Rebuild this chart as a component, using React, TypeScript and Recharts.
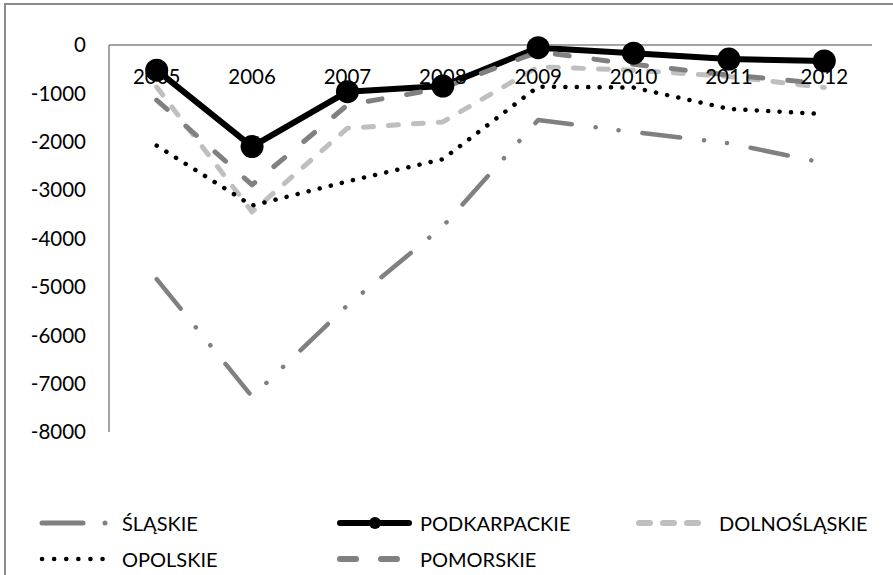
import { LineChart, Line, XAxis, YAxis } from 'recharts'

const years = ['2005', '2006', '2007', '2008', '2009', '2010', '2011', '2012']
const slaskie = [-4840, -7270, -5380, -3750, -1550, -1800, -2030, -2440]
const podkarpackie = [-520, -2100, -965, -850, -55, -170, -290, -330]
const dolnoslaskie = [-870, -3450, -1720, -1590, -450, -520, -650, -880]
const opolskie = [-2080, -3320, -2820, -2360, -860, -880, -1320, -1430]
const pomorskie = [-1140, -2890, -1240, -890, -140, -400, -620, -800]
const yTicks = [0, -1000, -2000, -3000, -4000, -5000, -6000, -7000, -8000]

const data = years.map((year, i) => ({
  year,
  slaskie: slaskie[i],
  podkarpackie: podkarpackie[i],
  dolnoslaskie: dolnoslaskie[i],
  opolskie: opolskie[i],
  pomorskie: pomorskie[i],
}))

const FONT = 'Lato, "Open Sans", sans-serif'
const AXIS = '#868686'

const SERIES = [
  { key: 'slaskie', name: 'ŚLĄSKIE', color: '#808080', width: 4.5, dash: '38 24 0.1 23 0.1 24' },
  { key: 'podkarpackie', name: 'PODKARPACKIE', color: '#000000', width: 6, dash: undefined, dot: true },
  { key: 'dolnoslaskie', name: 'DOLNOŚLĄSKIE', color: '#BFBFBF', width: 5, dash: '10 15' },
  { key: 'opolskie', name: 'OPOLSKIE', color: '#000000', width: 4.5, dash: '0.1 11.3' },
  { key: 'pomorskie', name: 'POMORSKIE', color: '#808080', width: 5, dash: '14 25' },
]

function YearTick({ x, y, payload }: { x?: number; y?: number; payload?: { value: string } }) {
  return (
    <text x={x} y={(y ?? 0) + 39} textAnchor="middle" fontSize={20.5} fill="#000" fontFamily={FONT}>
      {payload?.value}
    </text>
  )
}

// legend: position per entry, icon drawn as a small svg line
const LEGEND_POS = [
  { left: 39, top: 510 },
  { left: 337, top: 510 },
  { left: 636, top: 510 },
  { left: 39, top: 546 },
  { left: 337, top: 546 },
]

function LegendIcon({ s }: { s: typeof SERIES[number] }) {
  if (s.key === 'slaskie') {
    return (
      <svg width={72} height={26}>
        <line x1={3} y1={13} x2={44} y2={13} stroke={s.color} strokeWidth={5} strokeLinecap="round" />
        <circle cx={66} cy={13} r={2.5} fill={s.color} />
      </svg>
    )
  }
  if (s.key === 'podkarpackie') {
    return (
      <svg width={75} height={26}>
        <line x1={3} y1={13} x2={72} y2={13} stroke="#000" strokeWidth={6} strokeLinecap="round" />
        <circle cx={38} cy={13} r={6} fill="#000" />
      </svg>
    )
  }
  if (s.key === 'dolnoslaskie') {
    return (
      <svg width={72} height={26}>
        <line x1={3} y1={13} x2={64} y2={13} stroke={s.color} strokeWidth={6} strokeLinecap="round" strokeDasharray="11 13" />
      </svg>
    )
  }
  if (s.key === 'opolskie') {
    return (
      <svg width={72} height={26}>
        <line x1={3} y1={13} x2={64} y2={13} stroke="#000" strokeWidth={4.5} strokeLinecap="round" strokeDasharray="0.1 12" />
      </svg>
    )
  }
  return (
    <svg width={72} height={26}>
      <line x1={3} y1={13} x2={64} y2={13} stroke={s.color} strokeWidth={6} strokeLinecap="round" strokeDasharray="16 25" />
    </svg>
  )
}

export default function App() {
  return (
    <div style={{ position: 'fixed', left: 0, top: 0, width: 893, height: 575, background: '#fff', overflow: 'hidden', fontFamily: FONT }}>
      <div style={{ position: 'absolute', left: 4, top: 3, width: 960, height: 640, border: '2px solid #8c8c8c' }} />
      <LineChart
        width={893}
        height={575}
        data={data}
        margin={{ top: 0, right: 21, bottom: 143, left: 0 }}
        style={{ position: 'absolute', left: 0, top: 0 }}
      >
        <XAxis
          dataKey="year"
          orientation="top"
          height={45}
          padding={{ left: 47.7, right: 47.7 }}
          axisLine={{ stroke: AXIS, strokeWidth: 1.5 }}
          tickLine={false}
          tickSize={0}
          tickMargin={0}
          tick={<YearTick />}
          interval={0}
        />
        <YAxis
          type="number"
          domain={[-8000, 0]}
          ticks={yTicks}
          width={109}
          axisLine={{ stroke: AXIS, strokeWidth: 1.5 }}
          tickLine={false}
          tickSize={0}
          tickMargin={23}
          tick={{ fontSize: 20.5, fill: '#000', fontFamily: FONT }}
          interval={0}
        />
        {SERIES.map(s => (
          <Line
            key={s.key}
            dataKey={s.key}
            name={s.name}
            stroke={s.color}
            strokeWidth={s.width}
            strokeDasharray={s.dash}
            strokeLinecap="round"
            strokeLinejoin="round"
            type="linear"
            dot={s.dot ? { r: 11.5, fill: '#000', stroke: '#000', strokeWidth: 0 } : false}
            activeDot={false}
            isAnimationActive={false}
          />
        ))}
      </LineChart>
      {SERIES.map((s, i) => (
        <div
          key={s.key}
          style={{ position: 'absolute', left: LEGEND_POS[i].left, top: LEGEND_POS[i].top, display: 'flex', alignItems: 'center', height: 26 }}
        >
          <div style={{ width: 83, display: 'flex' }}>
            <LegendIcon s={s} />
          </div>
          <span style={{ fontSize: 20, color: '#000', whiteSpace: 'nowrap' }}>{s.name}</span>
        </div>
      ))}
    </div>
  )
}
